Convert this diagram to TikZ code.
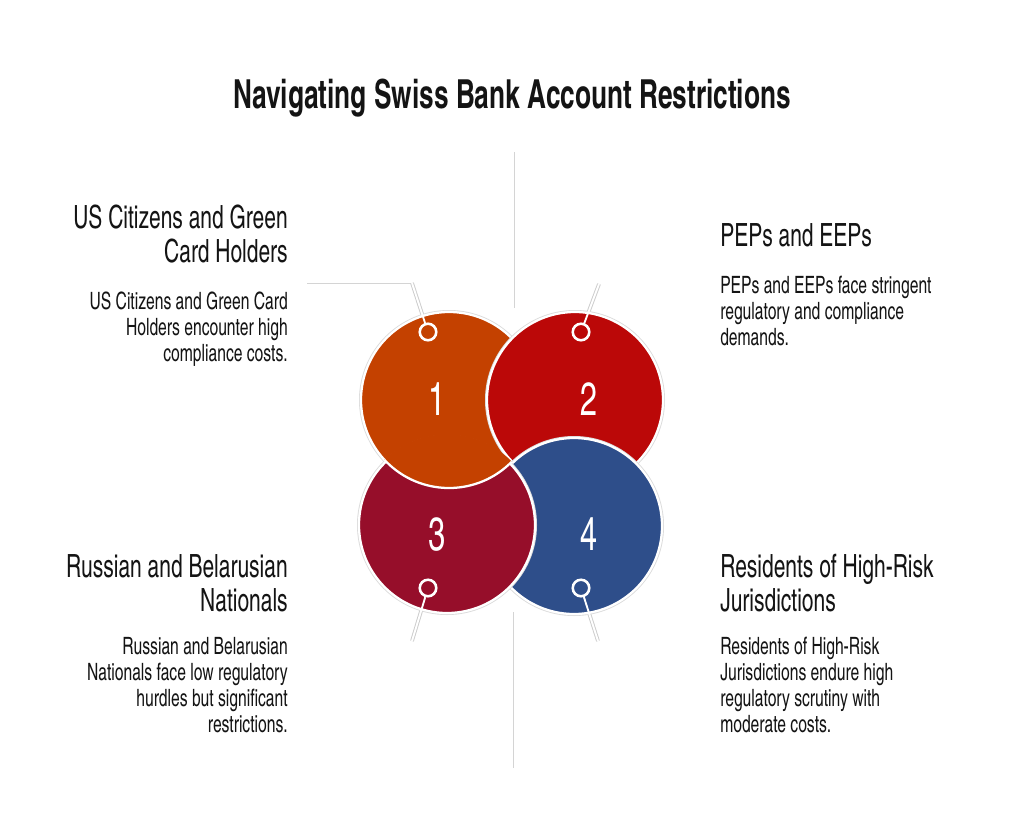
\documentclass[tikz,border=0pt]{standalone}
\usepackage{fontspec}
\newfontfamily\cnfont{texgyreheroscn-regular.otf}[FakeStretch=0.8]
\newfontfamily\cnbold{texgyreheroscn-bold.otf}[FakeStretch=0.8]
\definecolor{cone}{RGB}{196,65,0}
\definecolor{ctwo}{RGB}{187,8,8}
\definecolor{cthree}{RGB}{150,14,42}
\definecolor{cfour}{RGB}{46,78,138}
\definecolor{ink}{RGB}{20,20,20}
\begin{document}
\begin{tikzpicture}[x=0.75pt,y=-0.75pt,
  ttl/.style={font=\cnbold\fontsize{30}{32}\selectfont, inner sep=0, text=ink},
  hd/.style={font=\cnfont\fontsize{24}{25.5}\selectfont, inner sep=0, text=ink},
  bd/.style={font=\cnfont\fontsize{17.9}{19.5}\selectfont, inner sep=0, text=ink},
  num/.style={font=\cnfont\fontsize{35}{35}\selectfont, text=white, inner sep=0, anchor=base},
  ring/.style={circle, draw=white, line width=1.9pt, minimum size=12.4pt, inner sep=0},
  halo/.style={draw=black!20, line width=2.8pt},
  wline/.style={draw=white, line width=1.4pt},
  guide/.style={draw=black!17, line width=0.6pt},
  bigc/.style={line width=1.7pt, draw=white},
  bigh/.style={line width=3pt, draw=black!14},
]
\useasboundingbox[fill=white] (0,0) rectangle (1024,835);

% guides
\coordinate (vt1) at (514,152); \coordinate (vt2) at (514,308);
\coordinate (vb1) at (513,612); \coordinate (vb2) at (513,768);
\draw[guide] (vt1) -- (vt2);
\draw[guide] (vb1) -- (vb2);

% connector points
\coordinate (p1) at (428,332); \coordinate (e1) at (412,283); \coordinate (h1) at (307,283);
\coordinate (p2) at (581,332); \coordinate (e2) at (599,284);
\coordinate (p3) at (428,588); \coordinate (e3) at (412,641);
\coordinate (p4) at (581,588); \coordinate (e4) at (598,641);
\draw[guide] (e1) -- (h1);
\foreach \a/\b in {p1/e1,p2/e2,p3/e3,p4/e4} \draw[halo] (\a) -- (\b);

% circles
\coordinate (c1) at (449,400);
\coordinate (c2) at (575,400);
\coordinate (c3) at (447,525);
\coordinate (c4) at (574,526);
\foreach \c/\col in {c1/cone,c2/ctwo,c4/cfour,c3/cthree} {
  \draw[bigh] (\c) circle[radius=66pt];
  \fill[\col] (\c) circle[radius=66pt];
  \draw[bigc] (\c) circle[radius=66pt];
}
\begin{scope}
  \clip (c3) circle[radius=68pt];
  \fill[cone] (c1) circle[radius=66pt];
  \draw[bigc] (c1) circle[radius=66pt];
\end{scope}

% numbers
\node[num] (n1) at (437,415) {1};
\node[num] (n2) at (589,415) {2};
\node[num] (n3) at (437,550) {3};
\node[num] (n4) at (589,550) {4};

% rings and connectors
\node[ring] (r1) at (p1) {};
\node[ring] (r2) at (p2) {};
\node[ring] (r3) at (p3) {};
\node[ring] (r4) at (p4) {};
\draw[wline] (r1) -- (e1);
\draw[wline] (r2) -- (e2);
\draw[wline] (r3) -- (e3);
\draw[wline] (r4) -- (e4);

% title
\node[ttl, anchor=base] (title) at (512,108) {Navigating Swiss Bank Account Restrictions};

% texts
\node[hd, anchor=north east, align=right] (h1t) at (288,205) {US Citizens and Green\\Card Holders};
\node[bd, anchor=north east, align=right] (b1t) at (288,292) {US Citizens and Green Card\\Holders encounter high\\compliance costs.};
\node[hd, anchor=north west, align=left] (h2t) at (720,223) {PEPs and EEPs};
\node[bd, anchor=north west, align=left] (b2t) at (720,276) {PEPs and EEPs face stringent\\regulatory and compliance\\demands.};
\node[hd, anchor=north east, align=right] (h3t) at (288,554) {Russian and Belarusian\\Nationals};
\node[bd, anchor=north east, align=right] (b3t) at (288,637) {Russian and Belarusian\\Nationals face low regulatory\\hurdles but significant\\restrictions.};
\node[hd, anchor=north west, align=left] (h4t) at (720,554) {Residents of High-Risk\\Jurisdictions};
\node[bd, anchor=north west, align=left] (b4t) at (720,637) {Residents of High-Risk\\Jurisdictions endure high\\regulatory scrutiny with\\moderate costs.};
\end{tikzpicture}
\end{document}
